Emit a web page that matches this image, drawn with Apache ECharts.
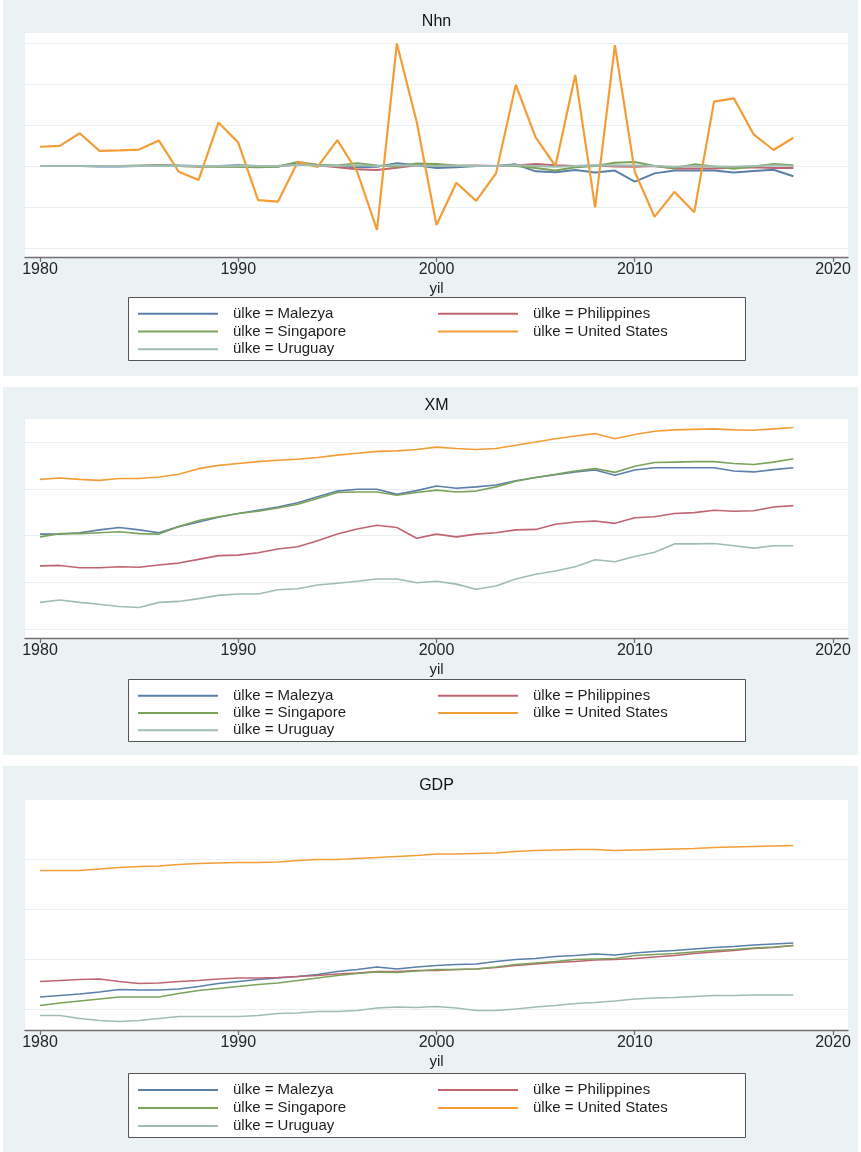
<!DOCTYPE html>
<html>
<head>
<meta charset="utf-8">
<title>Nhn, XM, GDP</title>
<script src="https://cdn.jsdelivr.net/npm/echarts@6/dist/echarts.min.js"></script>
<style>
  html, body { margin: 0; padding: 0; background: #ffffff; }
  #chart { width: 861px; height: 1152px; }
</style>
</head>
<body>
<div id="chart"></div>
<script>
// Years on the horizontal axis
const years = [1980, 1981, 1982, 1983, 1984, 1985, 1986, 1987, 1988, 1989,
               1990, 1991, 1992, 1993, 1994, 1995, 1996, 1997, 1998, 1999,
               2000, 2001, 2002, 2003, 2004, 2005, 2006, 2007, 2008, 2009,
               2010, 2011, 2012, 2013, 2014, 2015, 2016, 2017, 2018];
const tickYears = [1980, 1990, 2000, 2010, 2020];
const countries = ['Malezya', 'Philippines', 'Singapore', 'United States', 'Uruguay'];

// Nhn
const nhnMalezya = [0, 0, 0, -0.01, -0.01, 0, 0.01, 0.01, 0, 0,
  0.02, 0, -0.01, 0.08, 0.02, 0, -0.03, -0.02, 0.07, 0.02,
  -0.05, -0.03, 0, 0, 0.04, -0.13, -0.15, -0.1, -0.16, -0.11,
  -0.38, -0.18, -0.11, -0.11, -0.11, -0.16, -0.12, -0.09, -0.25];
const nhnPhilippines = [0, 0, 0, 0, 0, 0, 0.01, 0, -0.01, 0,
  -0.01, 0, 0, 0.03, 0.02, -0.03, -0.08, -0.1, -0.04, 0.02,
  0.02, 0, 0.01, 0, 0.01, 0.05, 0.02, 0, 0.01, -0.01,
  -0.02, 0, -0.06, -0.06, -0.06, -0.04, -0.03, -0.05, -0.05];
const nhnSingapore = [0, 0, 0, 0, 0, 0.01, 0.01, 0, -0.01, -0.02,
  -0.02, -0.03, -0.02, 0.1, 0.03, 0.01, 0.07, 0.01, -0.01, 0.06,
  0.05, 0.01, 0, 0, 0, -0.05, -0.11, -0.03, 0, 0.08,
  0.1, 0, -0.05, 0.04, -0.01, -0.07, -0.01, 0.05, 0.02];
const nhnUnitedStates = [0.47, 0.49, 0.80, 0.37, 0.38, 0.40, 0.62, -0.14, -0.34, 1.06,
  0.57, -0.83, -0.87, 0.10, -0.02, 0.63, -0.14, -1.56, 2.99, 1.08,
  -1.44, -0.41, -0.85, -0.18, 1.98, 0.70, 0.00, 2.22, -1.01, 2.95,
  -0.14, -1.24, -0.63, -1.13, 1.57, 1.65, 0.77, 0.39, 0.69];
const nhnUruguay = [0, 0, 0, 0, 0, 0, 0, 0, 0, 0,
  0, 0, 0, 0.03, 0.01, 0, 0.02, 0, 0.02, 0.01,
  0, 0.01, 0, 0, 0.02, 0, -0.02, 0, 0.01, 0.02,
  0.01, 0, -0.02, 0, -0.01, -0.02, 0, 0.02, 0];

// XM
const xmMalezya = [2.03, 2.03, 2.06, 2.12, 2.17, 2.12, 2.06, 2.19, 2.29, 2.39,
  2.47, 2.54, 2.61, 2.70, 2.83, 2.95, 2.99, 2.99, 2.88, 2.96,
  3.06, 3.01, 3.04, 3.08, 3.17, 3.24, 3.30, 3.36, 3.40, 3.29,
  3.40, 3.45, 3.45, 3.45, 3.45, 3.38, 3.36, 3.41, 3.45];
const xmPhilippines = [1.35, 1.36, 1.31, 1.31, 1.33, 1.32, 1.37, 1.41, 1.49, 1.57,
  1.58, 1.63, 1.71, 1.76, 1.89, 2.03, 2.14, 2.22, 2.17, 1.94,
  2.03, 1.97, 2.03, 2.06, 2.12, 2.13, 2.24, 2.29, 2.31, 2.26,
  2.38, 2.40, 2.47, 2.49, 2.54, 2.52, 2.53, 2.61, 2.64];
const xmSingapore = [1.97, 2.04, 2.04, 2.06, 2.08, 2.04, 2.03, 2.19, 2.32, 2.40,
  2.47, 2.52, 2.59, 2.67, 2.79, 2.92, 2.93, 2.93, 2.86, 2.92,
  2.97, 2.93, 2.95, 3.04, 3.16, 3.24, 3.31, 3.38, 3.43, 3.35,
  3.48, 3.56, 3.57, 3.58, 3.58, 3.54, 3.52, 3.57, 3.64];
const xmUnitedStates = [3.20, 3.23, 3.20, 3.18, 3.22, 3.22, 3.25, 3.31, 3.43, 3.50,
  3.54, 3.58, 3.61, 3.63, 3.67, 3.72, 3.76, 3.80, 3.81, 3.84,
  3.89, 3.86, 3.84, 3.86, 3.93, 4.00, 4.07, 4.13, 4.18, 4.07,
  4.16, 4.23, 4.26, 4.27, 4.28, 4.26, 4.25, 4.28, 4.31];
const xmUruguay = [0.57, 0.62, 0.57, 0.53, 0.48, 0.46, 0.57, 0.59, 0.65, 0.72,
  0.75, 0.75, 0.84, 0.86, 0.94, 0.98, 1.02, 1.07, 1.07, 0.99,
  1.02, 0.96, 0.85, 0.92, 1.07, 1.17, 1.24, 1.33, 1.48, 1.44,
  1.55, 1.64, 1.82, 1.82, 1.83, 1.78, 1.73, 1.78, 1.78];

// GDP
const gdpMalezya = [0.24, 0.27, 0.30, 0.34, 0.39, 0.38, 0.38, 0.40, 0.45, 0.51,
  0.55, 0.59, 0.62, 0.65, 0.69, 0.75, 0.79, 0.84, 0.80, 0.84,
  0.87, 0.89, 0.90, 0.95, 0.99, 1.01, 1.05, 1.07, 1.10, 1.08,
  1.12, 1.15, 1.17, 1.20, 1.23, 1.25, 1.28, 1.30, 1.32];
const gdpPhilippines = [0.55, 0.57, 0.59, 0.60, 0.55, 0.51, 0.52, 0.55, 0.57, 0.60,
  0.62, 0.62, 0.63, 0.65, 0.67, 0.70, 0.72, 0.75, 0.75, 0.77,
  0.77, 0.79, 0.80, 0.83, 0.87, 0.90, 0.93, 0.95, 0.98, 0.99,
  1.01, 1.04, 1.07, 1.11, 1.14, 1.17, 1.21, 1.23, 1.27];
const gdpSingapore = [0.07, 0.12, 0.16, 0.20, 0.24, 0.24, 0.24, 0.31, 0.37, 0.41,
  0.45, 0.49, 0.52, 0.57, 0.62, 0.67, 0.71, 0.74, 0.73, 0.76,
  0.79, 0.79, 0.80, 0.84, 0.89, 0.92, 0.95, 0.99, 1.00, 1.01,
  1.07, 1.09, 1.11, 1.14, 1.17, 1.19, 1.22, 1.24, 1.27];
const gdpUnitedStates = [2.77, 2.77, 2.77, 2.80, 2.83, 2.85, 2.86, 2.89, 2.91, 2.92,
  2.93, 2.93, 2.94, 2.97, 2.99, 2.99, 3.01, 3.03, 3.05, 3.07,
  3.10, 3.10, 3.11, 3.12, 3.15, 3.17, 3.18, 3.19, 3.19, 3.17,
  3.18, 3.19, 3.20, 3.21, 3.23, 3.24, 3.25, 3.26, 3.27];
const gdpUruguay = [-0.13, -0.13, -0.19, -0.23, -0.25, -0.23, -0.19, -0.15, -0.15, -0.15,
  -0.15, -0.13, -0.09, -0.08, -0.05, -0.05, -0.03, 0.02, 0.04, 0.03,
  0.05, 0.02, -0.03, -0.03, 0.00, 0.04, 0.07, 0.11, 0.13, 0.16,
  0.20, 0.22, 0.23, 0.25, 0.27, 0.27, 0.28, 0.28, 0.28];

// ---- styling and layout ----
const FONT = '"Liberation Sans", Arial, Helvetica, sans-serif';
const colors = ['#5a7fa8', '#c06470', '#7ba35b', '#f49d37', '#9fbdb0'];
const names = countries.map(c => 'ülke = ' + c);

// Each panel: background band, plot region, gridline range and legend box
const panels = [
  { title: 'Nhn', values: [nhnMalezya, nhnPhilippines, nhnSingapore, nhnUnitedStates, nhnUruguay],
    bandTop: 0, bandBottom: 376, plotTop: 33, plotBottom: 257,
    gridTop: 43, gridBottom: 248, yMin: -2, yMax: 3,
    titleY: 22, legendTop: 297, legendBottom: 360, width: 2 },
  { title: 'XM', values: [xmMalezya, xmPhilippines, xmSingapore, xmUnitedStates, xmUruguay],
    bandTop: 387, bandBottom: 755, plotTop: 419, plotBottom: 638,
    gridTop: 442, gridBottom: 629, yMin: 0, yMax: 4,
    titleY: 406, legendTop: 679, legendBottom: 741, width: 1.6 },
  { title: 'GDP', values: [gdpMalezya, gdpPhilippines, gdpSingapore, gdpUnitedStates, gdpUruguay],
    bandTop: 766, bandBottom: 1152, plotTop: 800, plotBottom: 1030,
    gridTop: 859, gridBottom: 1009, yMin: 0, yMax: 3,
    titleY: 786, legendTop: 1073, legendBottom: 1137, width: 1.6 }
];

const plotLeft = 25, plotRight = 848;
const x1980 = 40, x2020 = 833;
const pxPerYear = (x2020 - x1980) / (2020 - 1980);
const xMin = 1980 - (x1980 - plotLeft) / pxPerYear;
const xMax = 2020 + (plotRight - x2020) / pxPerYear;

const grids = [], xAxes = [], yAxes = [], series = [], legends = [], graphics = [];

panels.forEach((p, i) => {
  graphics.push({ type: 'rect', z: -20, shape: { x: 3, y: p.bandTop, width: 855, height: p.bandBottom - p.bandTop },
                  style: { fill: '#eaf2f3' } });
  graphics.push({ type: 'rect', z: -15, shape: { x: plotLeft, y: p.plotTop, width: plotRight - plotLeft, height: p.plotBottom - p.plotTop },
                  style: { fill: '#ffffff' } });
  graphics.push({ type: 'rect', z: -10, shape: { x: 128.5, y: p.legendTop + 0.5, width: 617, height: p.legendBottom - p.legendTop },
                  style: { fill: '#ffffff', stroke: '#555555', lineWidth: 1 } });
  graphics.push({ type: 'text', z: 10, x: (plotLeft + plotRight) / 2, y: p.titleY,
                  style: { text: p.title, font: '16px ' + FONT, fill: '#151515', align: 'center', verticalAlign: 'middle' } });

  grids.push({ left: plotLeft, width: plotRight - plotLeft, top: p.gridTop, height: p.gridBottom - p.gridTop, containLabel: false });

  xAxes.push({
    gridIndex: i, type: 'value', min: xMin, max: xMax,
    offset: p.plotBottom - p.gridBottom,
    axisLine: { show: true, onZero: false, lineStyle: { color: '#707070', width: 1.3 } },
    axisTick: { show: true, length: 5, customValues: tickYears, lineStyle: { color: '#707070', width: 1.3 } },
    axisLabel: { customValues: tickYears, margin: 5, fontSize: 16, fontFamily: FONT, color: '#262626',
                 formatter: v => String(v) },
    splitLine: { show: false },
    name: 'yil', nameLocation: 'middle', nameGap: 24,
    nameTextStyle: { fontSize: 15, fontFamily: FONT, color: '#262626' }
  });

  yAxes.push({
    gridIndex: i, type: 'value', min: p.yMin, max: p.yMax, interval: 1,
    axisLine: { show: false }, axisTick: { show: false }, axisLabel: { show: false },
    splitLine: { show: true, lineStyle: { color: '#e8f0f2', width: 1 } }
  });

  p.values.forEach((vals, k) => {
    series.push({
      type: 'line', name: names[k], xAxisIndex: i, yAxisIndex: i,
      data: years.map((yr, j) => [yr, vals[j]]),
      showSymbol: false, symbol: 'none', clip: false, smooth: false,
      lineStyle: { color: colors[k], width: (k === 3 && i === 0) ? 2.2 : p.width },
      itemStyle: { color: colors[k] },
      emphasis: { disabled: true }, animation: false
    });
  });

  const rowH = (p.legendBottom - p.legendTop - 10) / 3;
  const legendCommon = {
    orient: 'vertical', top: p.legendTop + 8, itemWidth: 80, itemHeight: 2, itemGap: 0,
    icon: 'rect', selectedMode: false, padding: 0,
    textStyle: { fontSize: 15, fontFamily: FONT, color: '#1e1e1e', lineHeight: rowH, padding: [0, 0, 0, 10] }
  };
  legends.push(Object.assign({}, legendCommon, { left: 138, data: [names[0], names[2], names[4]] }));
  legends.push(Object.assign({}, legendCommon, { left: 438, data: [names[1], names[3]] }));
});

const chart = echarts.init(document.getElementById('chart'), null, { renderer: 'canvas' });
chart.setOption({
  animation: false,
  color: colors,
  grid: grids,
  xAxis: xAxes,
  yAxis: yAxes,
  legend: legends,
  graphic: graphics,
  series: series
});
</script>
</body>
</html>
